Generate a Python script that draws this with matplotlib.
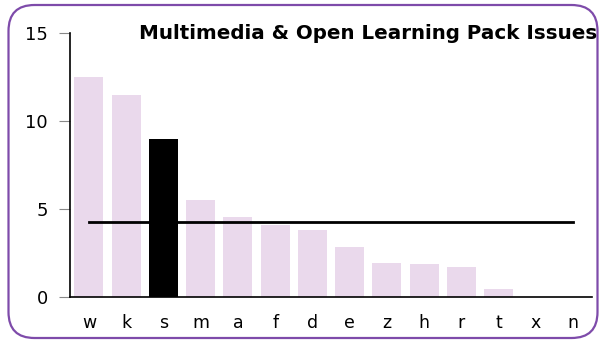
import matplotlib.pyplot as plt
from matplotlib.patches import FancyBboxPatch

# issue counts per pack code, sorted high to low
codes = ["w", "k", "s", "m", "a", "f", "d", "e", "z", "h", "r", "t", "x", "n"]
counts = [12.5, 11.5, 9.0, 5.5, 4.55, 4.1, 3.8, 2.85, 1.95, 1.9, 1.7, 0.45, 0, 0]
highlight = "s"
y_ticks = [0, 5, 10, 15]
title = "Multimedia & Open Learning Pack Issues"

pink = "#EAD9EC"
purple = "#7E4BAA"

fig = plt.figure(figsize=(5.99, 3.45), dpi=100)

# rounded purple frame around the whole chart (in inches)
frame = FancyBboxPatch((0.085, 0.07), 5.89, 3.33,
                       boxstyle="round,pad=0,rounding_size=0.26",
                       transform=fig.dpi_scale_trans, facecolor="none",
                       edgecolor=purple, linewidth=1.6)
fig.patches.append(frame)

ax = fig.add_axes([0.1174, 0.138, 0.8706, 0.766])
x = list(range(len(codes)))
colors = ["black" if c == highlight else pink for c in codes]
ax.bar(x, counts, width=0.78, color=colors, zorder=2)

mean = sum(counts) / len(counts)
ax.plot([x[0], x[-1]], [mean, mean], color="black", linewidth=2, zorder=3)

ax.set_xlim(-0.5, len(codes) - 0.5)
ax.set_ylim(0, 15)
ax.set_yticks(y_ticks)
ax.set_xticks(x)
ax.set_xticklabels(codes, fontsize=12.5)
ax.tick_params(axis="y", labelsize=13, length=8, color="#888888", pad=8)
ax.tick_params(axis="x", length=0, pad=12)
for side in ("top", "right"):
    ax.spines[side].set_visible(False)
ax.spines["left"].set_linewidth(1.2)
ax.spines["bottom"].set_linewidth(1.2)

fig.text(0.997, 0.904, title, ha="right", va="center",
         fontsize=14.3, fontweight="bold")

fig.savefig("out.png", dpi=100)
